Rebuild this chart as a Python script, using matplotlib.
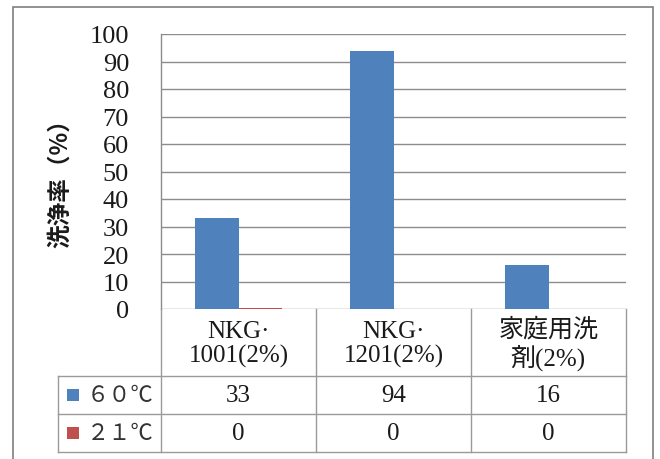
import matplotlib
matplotlib.use("Agg")
import matplotlib.pyplot as plt
from matplotlib.patches import Rectangle
import numpy as np

# ---- data ----
categories = ["NKG·\n1001(2%)", "NKG·\n1201(2%)", "家庭用洗\n剤(2%)"]
series_names = ["６０℃", "２１℃"]
values_60 = [33, 94, 16]
values_21 = [0.4, 0, 0]
y_ticks = [0, 10, 20, 30, 40, 50, 60, 70, 80, 90, 100]
y_label = "洗浄率（%）"

BLUE = "#4F81BD"
RED = "#C0504D"
GRID = "#8C8C8C"
TAB = "#9A9A9A"

W, H = 660, 460
fig = plt.figure(figsize=(W / 100, H / 100), dpi=100)
fig.patch.set_facecolor("white")

serif = ["Liberation Serif", "Noto Sans CJK JP"]
cjk = ["Noto Sans CJK JP", "DejaVu Sans"]

def fx(px):
    return px / W

def fy(py):
    return 1 - py / H

# outer frame
fig.patches.append(Rectangle((fx(13), fy(470)), fx(653) - fx(13), fy(8) - fy(470),
                             transform=fig.transFigure, fill=False,
                             edgecolor="#7F7F7F", linewidth=1.2, zorder=0))

# ---- plot area ----
pl, pr, pt, pb = 161, 626, 35, 310
ax = fig.add_axes([fx(pl), fy(pb), fx(pr) - fx(pl), fy(pt) - fy(pb)])
x = np.arange(len(categories))
bw = 0.28
ax.bar(x - bw / 2, values_60, width=bw, color=BLUE, zorder=3)
ax.bar(x + bw / 2, values_21, width=bw, color=RED, zorder=3)
ax.set_xlim(-0.5, len(categories) - 0.5)
ax.set_ylim(0, 100)
ax.set_yticks(y_ticks)
ax.set_yticklabels([str(t) for t in y_ticks], fontfamily=serif, fontsize=19,
                   color="#1a1a1a")
ax.tick_params(axis="y", length=0, pad=23)
ax.set_xticks([])
ax.grid(axis="y", color=GRID, linewidth=1.0, zorder=0)
for s in ["top", "right", "bottom"]:
    ax.spines[s].set_visible(False)
ax.spines["left"].set_color(GRID)
ax.spines["left"].set_linewidth(1.0)

fig.text(fx(60), fy(178), y_label, rotation=90, ha="center", va="center",
         fontfamily=cjk, fontsize=17, fontweight="bold", color="#1a1a1a")

# ---- data table ----
leg_w = 103 / 155  # legend column width in category units
tl, tt, tb = 58, 310, 453
tax = fig.add_axes([fx(tl), fy(tb), fx(pr) - fx(tl), fy(tt) - fy(tb)])
tax.set_xlim(-0.5 - leg_w, len(categories) - 0.5)
hdr_h, row_h = 377 - 310, 38
tax.set_ylim(hdr_h + 2 * row_h, 0)
tax.axis("off")

lkw = dict(color=TAB, linewidth=1.0, clip_on=False)
for i in range(len(categories) + 1):
    xv = i - 0.5
    tax.plot([xv, xv], [0, hdr_h + 2 * row_h], **lkw)
tax.plot([-0.5 - leg_w] * 2, [hdr_h, hdr_h + 2 * row_h], **lkw)
for yv in [hdr_h, hdr_h + row_h, hdr_h + 2 * row_h]:
    tax.plot([-0.5 - leg_w, len(categories) - 0.5], [yv, yv], **lkw)

for i, c in enumerate(categories):
    tax.text(i, hdr_h / 2 + 1, c, ha="center", va="center", fontfamily=serif,
             fontsize=18, linespacing=1.15, color="#1a1a1a")

for r, (name, vals, col) in enumerate([(series_names[0], values_60, BLUE),
                                       (series_names[1], values_21, RED)]):
    yc = hdr_h + row_h * (r + 0.5)
    for i, v in enumerate(vals):
        tax.text(i, yc, f"{v:.0f}", ha="center", va="center", fontfamily=serif,
                 fontsize=18, color="#1a1a1a")
    kx = -0.5 - leg_w + 9 / 155
    tax.add_patch(Rectangle((kx, yc - 6), 12 / 155, 12, facecolor=col,
                            edgecolor="none", clip_on=False))
    tax.text(-0.5 - leg_w + 29 / 155, yc, name, ha="left", va="center",
             fontfamily=cjk, fontsize=16, color="#333333")

fig.savefig("out.png", dpi=100, facecolor="white")
